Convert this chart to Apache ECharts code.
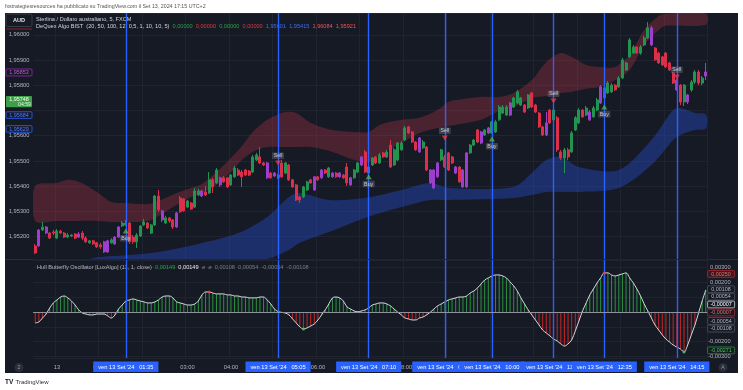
<!DOCTYPE html>
<html>
<head>
<meta charset="utf-8">
<script src="https://cdn.jsdelivr.net/npm/echarts@6/dist/echarts.min.js"></script>
<style>
html,body{margin:0;padding:0;background:#ffffff;overflow:hidden;}
#chart{width:743px;height:390px;}
</style>
</head>
<body>
<div id="chart"></div>
<script>
// ---------- DATA ----------
// 5-minute bars, 12 Sep 23:30 -> 13 Sep 14:55
const barTimes = [];
for (let b = -6; b <= 179; b++) {
  const m = (1440 + b * 5) % 1440;
  barTimes.push(String(Math.floor(m / 60)).padStart(2, '0') + ':' + String(m % 60).padStart(2, '0'));
}
const dayLabel = '13';

const open = [
1.95163,1.95163,1.95226,1.95238,1.95214,1.95218,1.95194,1.95222,1.95214,1.95198,
1.95202,1.95210,1.95198,1.95214,1.95194,1.95175,1.95183,1.95175,1.95167,1.95179,
1.95139,1.95175,1.95171,1.95198,1.95242,1.95246,1.95254,1.95198,1.95179,1.95202,
1.95246,1.95254,1.95214,1.95246,1.95361,1.95302,1.95254,1.95274,1.95266,1.95238,
1.95353,1.95349,1.95317,1.95333,1.95317,1.95365,1.95381,1.95377,1.95373,1.95425,
1.95413,1.95433,1.95433,1.95433,1.95405,1.95437,1.95464,1.95456,1.95464,1.95460,
1.95456,1.95504,1.95516,1.95492,1.95492,1.95452,1.95452,1.95444,1.95492,1.95452,
1.95484,1.95425,1.95405,1.95357,1.95357,1.95385,1.95425,1.95437,1.95437,1.95433,
1.95464,1.95437,1.95452,1.95452,1.95437,1.95444,1.95476,1.95433,1.95433,1.95456,
1.95484,1.95536,1.95452,1.95484,1.95516,1.95492,1.95532,1.95516,1.95563,1.95484,
1.95504,1.95544,1.95583,1.95635,1.95615,1.95575,1.95591,1.95552,1.95555,1.95464,
1.95464,1.95437,1.95504,1.95516,1.95532,1.95516,1.95476,1.95476,1.95464,1.95397,
1.95532,1.95563,1.95623,1.95615,1.95603,1.95631,1.95611,1.95615,1.95663,1.95690,
1.95682,1.95730,1.95714,1.95730,1.95722,1.95722,1.95710,1.95770,1.95722,1.95690,
1.95635,1.95603,1.95702,1.95663,1.95671,1.95536,1.95512,1.95544,1.95536,1.95623,
1.95651,1.95702,1.95682,1.95694,1.95675,1.95702,1.95730,1.95790,1.95770,1.95774,
1.95801,1.95794,1.95829,1.95861,1.95913,1.95928,1.95952,1.95928,1.95960,1.95988,
1.96028,1.95948,1.95928,1.95913,1.95928,1.95889,1.95849,1.95821,1.95801,1.95734,
1.95762,1.95782,1.95813,1.95853,1.95809,1.95837];
const close = [
1.95135,1.95226,1.95238,1.95214,1.95194,1.95214,1.95222,1.95214,1.95198,1.95206,
1.95206,1.95194,1.95210,1.95194,1.95179,1.95183,1.95171,1.95159,1.95159,1.95139,
1.95183,1.95187,1.95198,1.95238,1.95254,1.95254,1.95179,1.95179,1.95206,1.95242,
1.95258,1.95234,1.95246,1.95361,1.95306,1.95266,1.95274,1.95262,1.95238,1.95294,
1.95298,1.95302,1.95341,1.95309,1.95381,1.95381,1.95361,1.95365,1.95425,1.95397,
1.95464,1.95405,1.95417,1.95397,1.95444,1.95472,1.95444,1.95437,1.95444,1.95444,
1.95516,1.95524,1.95492,1.95484,1.95433,1.95433,1.95440,1.95433,1.95437,1.95492,
1.95425,1.95397,1.95345,1.95345,1.95397,1.95417,1.95413,1.95385,1.95425,1.95464,
1.95452,1.95472,1.95437,1.95437,1.95452,1.95433,1.95413,1.95405,1.95464,1.95492,
1.95516,1.95456,1.95476,1.95512,1.95492,1.95524,1.95516,1.95536,1.95476,1.95544,
1.95571,1.95571,1.95631,1.95611,1.95575,1.95544,1.95536,1.95575,1.95464,1.95413,
1.95393,1.95492,1.95544,1.95476,1.95464,1.95492,1.95452,1.95417,1.95397,1.95532,
1.95563,1.95583,1.95575,1.95571,1.95623,1.95611,1.95655,1.95655,1.95714,1.95714,
1.95714,1.95682,1.95750,1.95774,1.95750,1.95694,1.95762,1.95714,1.95694,1.95635,
1.95603,1.95651,1.95651,1.95702,1.95544,1.95512,1.95544,1.95516,1.95611,1.95671,
1.95702,1.95675,1.95710,1.95663,1.95710,1.95742,1.95794,1.95750,1.95809,1.95801,
1.95782,1.95829,1.95901,1.95889,1.95980,1.95952,1.95928,1.95952,1.95988,1.96028,
1.95960,1.95901,1.95889,1.95881,1.95873,1.95861,1.95809,1.95782,1.95734,1.95801,
1.95734,1.95813,1.95853,1.95809,1.95829,1.95853];
const low = [
1.95131,1.95159,1.95222,1.95210,1.95190,1.95206,1.95190,1.95210,1.95194,1.95194,
1.95198,1.95190,1.95194,1.95187,1.95175,1.95171,1.95167,1.95155,1.95151,1.95135,
1.95135,1.95171,1.95167,1.95194,1.95238,1.95242,1.95171,1.95171,1.95155,1.95198,
1.95242,1.95230,1.95210,1.95242,1.95298,1.95258,1.95250,1.95254,1.95230,1.95234,
1.95294,1.95298,1.95313,1.95306,1.95313,1.95361,1.95357,1.95361,1.95369,1.95373,
1.95409,1.95397,1.95413,1.95393,1.95401,1.95433,1.95440,1.95397,1.95440,1.95440,
1.95452,1.95500,1.95488,1.95480,1.95429,1.95429,1.95437,1.95429,1.95433,1.95448,
1.95421,1.95393,1.95341,1.95333,1.95353,1.95381,1.95409,1.95381,1.95421,1.95429,
1.95448,1.95433,1.95433,1.95433,1.95433,1.95429,1.95401,1.95401,1.95429,1.95452,
1.95480,1.95452,1.95448,1.95480,1.95488,1.95488,1.95512,1.95512,1.95472,1.95480,
1.95500,1.95540,1.95579,1.95607,1.95571,1.95540,1.95532,1.95548,1.95460,1.95409,
1.95389,1.95433,1.95500,1.95472,1.95460,1.95488,1.95448,1.95413,1.95393,1.95393,
1.95528,1.95559,1.95571,1.95567,1.95599,1.95607,1.95607,1.95611,1.95659,1.95686,
1.95678,1.95678,1.95710,1.95726,1.95718,1.95690,1.95706,1.95710,1.95690,1.95631,
1.95599,1.95599,1.95647,1.95659,1.95536,1.95504,1.95452,1.95504,1.95532,1.95619,
1.95647,1.95671,1.95678,1.95659,1.95671,1.95698,1.95726,1.95742,1.95766,1.95770,
1.95778,1.95790,1.95825,1.95857,1.95909,1.95925,1.95925,1.95921,1.95956,1.95984,
1.95956,1.95897,1.95885,1.95877,1.95869,1.95857,1.95805,1.95778,1.95722,1.95718,
1.95726,1.95774,1.95805,1.95801,1.95801,1.95821];
const high = [
1.95171,1.95230,1.95258,1.95242,1.95218,1.95226,1.95230,1.95226,1.95218,1.95214,
1.95210,1.95214,1.95218,1.95222,1.95202,1.95187,1.95187,1.95179,1.95175,1.95183,
1.95187,1.95194,1.95202,1.95242,1.95262,1.95266,1.95258,1.95206,1.95214,1.95246,
1.95270,1.95258,1.95250,1.95365,1.95385,1.95306,1.95282,1.95278,1.95270,1.95298,
1.95361,1.95353,1.95345,1.95337,1.95393,1.95389,1.95385,1.95401,1.95456,1.95433,
1.95472,1.95437,1.95440,1.95437,1.95448,1.95480,1.95472,1.95464,1.95468,1.95464,
1.95524,1.95532,1.95555,1.95496,1.95496,1.95456,1.95456,1.95448,1.95504,1.95496,
1.95488,1.95429,1.95409,1.95361,1.95401,1.95421,1.95429,1.95440,1.95440,1.95468,
1.95468,1.95476,1.95456,1.95456,1.95456,1.95448,1.95492,1.95437,1.95468,1.95496,
1.95520,1.95544,1.95480,1.95516,1.95520,1.95532,1.95536,1.95544,1.95583,1.95552,
1.95575,1.95579,1.95639,1.95639,1.95619,1.95579,1.95595,1.95583,1.95559,1.95468,
1.95468,1.95496,1.95548,1.95524,1.95536,1.95520,1.95480,1.95480,1.95468,1.95536,
1.95567,1.95587,1.95627,1.95619,1.95627,1.95635,1.95659,1.95663,1.95722,1.95722,
1.95722,1.95734,1.95754,1.95782,1.95754,1.95726,1.95766,1.95774,1.95726,1.95694,
1.95639,1.95694,1.95706,1.95718,1.95678,1.95544,1.95552,1.95552,1.95619,1.95678,
1.95710,1.95706,1.95718,1.95702,1.95718,1.95750,1.95801,1.95798,1.95817,1.95809,
1.95805,1.95837,1.95909,1.95893,1.95988,1.95960,1.95956,1.95960,1.95996,1.96051,
1.96036,1.95952,1.95932,1.95917,1.95932,1.95893,1.95853,1.95825,1.95805,1.95805,
1.95766,1.95821,1.95861,1.95861,1.95837,1.95889];
// DeQuex bar state: g = bullish, r = bearish, p = neutral (purple)
const barState = ('rpgprrgrrg' + 'grprrgrrrp' + 'pgppggrrgg' + 'grggrpgrrp' + 'rrgrggprgr' +
  'gprrggrrrr' + 'ggrrprprrg' + 'rrrrggrprp' + 'rgprprrpgg' + 'prggrgrgrg' +
  'gggrrrpgrp' + 'ppgrrrprpp' + 'ggrpgpgggg' + 'gpgggrgrrr' + 'rprgrrgrgg' +
  'grgpggprgg' + 'rgggggrggg' + 'prrrrrrprg' + 'pggrgp').split('');

// DeQuex cloud bands
const redTimes = ['23:30','00:00','00:15','00:30','00:55','01:15','01:35','02:05','02:20','02:45','03:05','03:20','03:40','04:00','04:15','04:30','04:50','05:15','05:30','05:50','06:20','06:50','07:10','07:25','07:55','08:20','08:45','09:00','09:10','09:45','10:10','10:30','10:55','11:15','11:35','11:50','12:10','12:30','12:50','13:10','13:30','13:50','14:00','14:55'];
const redUpper = [1.95401,1.95413,1.95425,1.95417,1.95377,1.95337,1.95333,1.95329,1.95341,1.95373,1.95393,1.95409,1.95456,1.95512,1.95559,1.95615,1.95663,1.95694,1.95690,1.95651,1.95623,1.95615,1.95615,1.95643,1.95663,1.95671,1.95702,1.95734,1.95742,1.95754,1.95754,1.95770,1.95821,1.95893,1.95928,1.95913,1.95881,1.95873,1.95873,1.95921,1.96020,1.96075,1.96084,1.96084];
const redLower = [1.95262,1.95262,1.95262,1.95262,1.95262,1.95258,1.95258,1.95262,1.95282,1.95325,1.95357,1.95373,1.95405,1.95456,1.95504,1.95536,1.95555,1.95555,1.95555,1.95555,1.95536,1.95504,1.95496,1.95524,1.95571,1.95611,1.95631,1.95639,1.95643,1.95663,1.95698,1.95714,1.95750,1.95758,1.95770,1.95774,1.95786,1.95794,1.95821,1.95861,1.95960,1.96020,1.96036,1.96040];
const blueTimes = ['00:45','01:00','02:10','03:15','04:10','04:50','05:20','05:35','06:15','07:05','07:55','08:35','09:00','10:30','10:55','11:15','11:35','12:00','12:55','13:40','14:10','14:20','14:40','14:55'];
const blueUpper = [1.95111,1.95119,1.95135,1.95171,1.95214,1.95278,1.95357,1.95373,1.95345,1.95353,1.95385,1.95413,1.95393,1.95397,1.95452,1.95504,1.95516,1.95476,1.95464,1.95583,1.95702,1.95710,1.95690,1.95684];
const blueLower = [1.95100,1.95100,1.95100,1.95100,1.95100,1.95111,1.95147,1.95175,1.95218,1.95274,1.95317,1.95345,1.95345,1.95353,1.95365,1.95377,1.95377,1.95377,1.95393,1.95484,1.95583,1.95603,1.95623,1.95629];

// Signals
const buyTimes = ['01:35','07:10','10:00','12:35'];
const buyLevels = [1.95222,1.95437,1.95587,1.95714];
const sellTimes = ['05:05','08:55','11:25','14:15'];
const sellLevels = [1.95492,1.95591,1.95738,1.95833];
const signalTimes = ['01:35','05:05','07:10','08:55','10:00','11:25','12:35','14:15'];
const signalDate = "ven 13 Set '24";

// Hull Butterfly Oscillator
const osc = [
-0.00074,-0.00068,-0.00041,-0.00014,0.00027,0.00061,0.00081,0.00101,0.00108,0.00095,
0.00074,0.00047,0.00014,-0.00007,-0.00014,-0.00020,-0.00020,-0.00014,-0.00014,-0.00014,
-0.00027,-0.00041,-0.00020,0.00020,0.00047,0.00074,0.00081,0.00088,0.00081,0.00074,
0.00068,0.00061,0.00061,0.00068,0.00081,0.00101,0.00108,0.00108,0.00095,0.00068,
0.00061,0.00054,0.00047,0.00047,0.00054,0.00074,0.00115,0.00135,0.00135,0.00128,
0.00122,0.00122,0.00122,0.00115,0.00115,0.00108,0.00108,0.00101,0.00101,0.00095,
0.00095,0.00095,0.00101,0.00101,0.00081,0.00054,0.00020,0.00003,-0.00003,-0.00007,
-0.00020,-0.00047,-0.00074,-0.00101,-0.00115,-0.00108,-0.00095,-0.00081,-0.00054,-0.00020,
0.00014,0.00054,0.00095,0.00101,0.00095,0.00074,0.00034,0.00020,0.00007,0.00001,
0.00007,0.00014,0.00027,0.00047,0.00054,0.00061,0.00061,0.00054,0.00041,0.00020,
-0.00001,-0.00020,-0.00041,-0.00047,-0.00054,-0.00054,-0.00041,-0.00034,-0.00020,-0.00002,
0.00020,0.00041,0.00054,0.00068,0.00081,0.00088,0.00095,0.00101,0.00101,0.00108,
0.00128,0.00142,0.00162,0.00189,0.00216,0.00230,0.00243,0.00250,0.00250,0.00243,
0.00230,0.00203,0.00176,0.00142,0.00095,0.00054,0.00014,-0.00020,-0.00054,-0.00088,
-0.00122,-0.00142,-0.00162,-0.00183,-0.00196,-0.00216,-0.00230,-0.00216,-0.00189,-0.00128,
-0.00061,0.00007,0.00061,0.00115,0.00155,0.00196,0.00230,0.00264,0.00264,0.00250,
0.00243,0.00250,0.00257,0.00264,0.00230,0.00196,0.00155,0.00108,0.00054,0.00007,
-0.00041,-0.00088,-0.00122,-0.00155,-0.00183,-0.00203,-0.00223,-0.00237,-0.00250,-0.00271,
-0.00223,-0.00155,-0.00088,-0.00007,0.00074,0.00149];
const oscLevels = [0.00108, 0.00054, -0.00054, -0.00108];
const oscTopTimes = ['03:30','12:35'];
const oscTopValues = [0.00135, 0.00264];
const oscBottomTimes = ['05:40','14:25'];
const oscBottomValues = [-0.00115, -0.00271];

// Scale tags
const priceTagValues = [1.95853, 1.95748, 1.95684, 1.95629];
const countdown = '04:59';
const oscTagValues = [0.00250, 0.00108, 0.00054, -0.00007, -0.00007, -0.00054, -0.00108, -0.00271];
const mainHiddenTicks = [1.957];
const oscHiddenTicks = [0.001, 0, -0.001];

// ---------- STYLE ----------
const FONT_FAMILY = '"Liberation Sans", Arial, sans-serif';
const BG = '#161a25';
const GRID = '#1f2430';
const AXIS_TXT = '#b2b5be';
const BLUE_LINE = '#2962ff';
const CANDLE_COLORS = { g: '#22944f', r: '#dc2f4a', p: '#9c3fcf' };
const font = (s, w) => (w ? w + ' ' : '') + s + 'px ' + FONT_FAMILY;
const fmt5 = v => v.toFixed(5).replace('.', ',');
const isHidden = (list, v) => list.some(h => Math.abs(h - v) < 1e-9);
const hourOnly = (i, v) => typeof v === 'string' && v.slice(3) === '00';
const idx = t => barTimes.indexOf(t);

function bandRender(fill) {
  return function (params, api) {
    if (params.dataIndexInside !== 0) return null;
    const n = params.dataInsideLength;
    const up = [], lo = [];
    for (let i = 0; i < n; i++) {
      up.push(api.coord([api.value(0, i), api.value(1, i)]));
      lo.push(api.coord([api.value(0, i), api.value(2, i)]));
    }
    return {
      type: 'polygon',
      shape: { points: up.concat(lo.reverse()), smooth: 0.3 },
      style: { fill: fill }
    };
  };
}

const chart = echarts.init(document.getElementById('chart'), null, { renderer: 'canvas' });

const GL = 33.4, GR = 35.4;

const option = {
  animation: false,
  backgroundColor: '#ffffff',
  textStyle: { fontFamily: FONT_FAMILY },
  grid: [
    { left: GL, right: GR, top: 13, height: 246 },
    { left: GL, right: GR, top: 260, height: 98 }
  ],
  xAxis: [
    { type: 'category', gridIndex: 0, data: barTimes, boundaryGap: true,
      axisLine: { show: false }, axisTick: { show: false }, axisLabel: { show: false },
      splitLine: { show: true, interval: hourOnly, lineStyle: { color: GRID, width: 1 } } },
    { type: 'category', gridIndex: 1, data: barTimes, boundaryGap: true,
      axisLine: { show: false }, axisTick: { show: false },
      axisLabel: { show: true, interval: hourOnly, formatter: v => (v === '00:00' ? dayLabel : v),
        color: AXIS_TXT, fontSize: 5.7, fontFamily: FONT_FAMILY, margin: 6 },
      splitLine: { show: true, interval: hourOnly, lineStyle: { color: GRID, width: 1 } } }
  ],
  yAxis: [
    { type: 'value', gridIndex: 0, position: 'left', min: 1.95111, max: 1.96087,
      minInterval: 0.001, maxInterval: 0.001, splitNumber: 10,
      axisLine: { show: false }, axisTick: { show: false },
      axisLabel: { formatter: v => (isHidden(mainHiddenTicks, v) ? '' : fmt5(v)), color: AXIS_TXT,
        fontSize: 5.7, fontFamily: FONT_FAMILY, margin: 4, showMinLabel: false, showMaxLabel: false },
      splitLine: { lineStyle: { color: GRID, width: 1 } } },
    { type: 'value', gridIndex: 1, position: 'right', min: -0.00311, max: 0.00351,
      minInterval: 0.001, maxInterval: 0.001, splitNumber: 6,
      axisLine: { show: false }, axisTick: { show: false },
      axisLabel: { formatter: v => (isHidden(oscHiddenTicks, v) ? '' : fmt5(v)), color: AXIS_TXT,
        fontSize: 5.7, fontFamily: FONT_FAMILY, margin: 23, align: 'right',
        showMinLabel: false, showMaxLabel: false },
      splitLine: { lineStyle: { color: GRID, width: 1 } } }
  ],
  series: [
    { type: 'custom', name: 'redCloud', xAxisIndex: 0, yAxisIndex: 0, z: 1, silent: true, clip: true,
      data: redTimes.map((t, i) => [idx(t), redUpper[i], redLower[i]]),
      encode: { x: 0, y: [1, 2] },
      renderItem: bandRender('rgba(214,58,76,0.28)') },
    { type: 'custom', name: 'blueCloud', xAxisIndex: 0, yAxisIndex: 0, z: 1, silent: true, clip: true,
      data: blueTimes.map((t, i) => [idx(t), blueUpper[i], blueLower[i]]),
      encode: { x: 0, y: [1, 2] },
      renderItem: bandRender('rgba(41,82,220,0.38)') },
    { type: 'candlestick', name: 'GBPAUD', xAxisIndex: 0, yAxisIndex: 0, z: 3, barWidth: '70%',
      data: barTimes.map((t, i) => {
        const c = CANDLE_COLORS[barState[i]];
        return { value: [open[i], close[i], low[i], high[i]],
          itemStyle: { color: c, color0: c, borderColor: c, borderColor0: c, borderWidth: 1 } };
      }),
      markLine: { silent: true, symbol: ['none', 'none'], animation: false,
        label: { show: false },
        lineStyle: { color: BLUE_LINE, width: 1.4, type: 'solid', opacity: 1 },
        data: signalTimes.map(t => ({ xAxis: t })) } },
    { type: 'scatter', name: 'Buy', xAxisIndex: 0, yAxisIndex: 0, z: 6, silent: true,
      data: buyTimes.map((t, i) => [idx(t), buyLevels[i]]),
      symbol: 'triangle', symbolSize: [6, 5], itemStyle: { color: '#4caf50' },
      label: { show: true, position: 'bottom', distance: 1.5, formatter: 'Buy', color: '#e0e3eb',
        fontSize: 5.3, fontFamily: FONT_FAMILY, backgroundColor: 'rgba(120,123,134,0.5)',
        padding: [1, 1.5, 0.5, 1.5], borderRadius: 1 } },
    { type: 'scatter', name: 'Sell', xAxisIndex: 0, yAxisIndex: 0, z: 6, silent: true,
      data: sellTimes.map((t, i) => [idx(t), sellLevels[i]]),
      symbol: 'triangle', symbolRotate: 180, symbolSize: [6, 5], itemStyle: { color: '#f23645' },
      label: { show: true, position: 'top', distance: 1.5, formatter: 'Sell', color: '#e0e3eb',
        fontSize: 5.3, fontFamily: FONT_FAMILY, backgroundColor: 'rgba(120,123,134,0.5)',
        padding: [1, 1.5, 0.5, 1.5], borderRadius: 1 } },
    { type: 'bar', name: 'HBO hist', xAxisIndex: 1, yAxisIndex: 1, z: 2, barWidth: 1, silent: true,
      data: osc,
      itemStyle: { color: p => (p.value >= 0 ? 'rgba(46,160,67,0.9)' : 'rgba(214,40,40,0.9)') },
      markLine: { silent: true, symbol: ['none', 'none'], animation: false,
        lineStyle: { color: BLUE_LINE, width: 1.4, type: 'solid', opacity: 1 },
        label: { show: true, position: 'start', distance: 3.5,
          formatter: p => signalDate + '   ' + p.name,
          color: '#ffffff', backgroundColor: BLUE_LINE, padding: [2.5, 5, 2, 5],
          fontSize: 5.7, fontFamily: FONT_FAMILY },
        data: signalTimes.map(t => ({ xAxis: t, name: t })) } },
    { type: 'line', name: 'HBO', xAxisIndex: 1, yAxisIndex: 1, z: 4, silent: true,
      data: osc, smooth: 0.35, showSymbol: false,
      lineStyle: { color: '#d6d8de', width: 1 },
      markLine: { silent: true, symbol: ['none', 'none'], animation: false, label: { show: false },
        lineStyle: { color: '#8f929b', width: 1, type: 'solid', opacity: 0.85 },
        data: oscLevels.map(v => ({ yAxis: v })) } },
    { type: 'scatter', xAxisIndex: 1, yAxisIndex: 1, z: 5, silent: true, symbolSize: 3,
      data: oscTopTimes.map((t, i) => [idx(t), oscTopValues[i]]), itemStyle: { color: '#ff3b3b' } },
    { type: 'scatter', xAxisIndex: 1, yAxisIndex: 1, z: 5, silent: true, symbolSize: 3,
      data: oscBottomTimes.map((t, i) => [idx(t), oscBottomValues[i]]), itemStyle: { color: '#3fcf5a' } }
  ],
  graphic: [
    { type: 'rect', id: 'bg', z: -10, silent: true, shape: { x: 5, y: 13, width: 733, height: 360 }, style: { fill: BG } },
    { type: 'line', id: 'sep', z: 0, silent: true, shape: { x1: 5, y1: 259.5, x2: 738, y2: 259.5 }, style: { stroke: '#2a2e39', lineWidth: 1 } },
    { type: 'text', id: 'hdr', z: 1, x: 5, y: 6.5, style: { text: 'fxstrategiesresources ha pubblicato su TradingView.com il Set 13, 2024 17:15 UTC+2', fill: '#555555', font: font(5.3), verticalAlign: 'middle' } },
    { type: 'text', id: 'lg1', z: 1, x: 36, y: 19, style: { text: 'Sterlina / Dollaro australiano, 5, FXCM', fill: '#d1d4dc', font: font(5.6), verticalAlign: 'middle' } },
    { type: 'text', id: 'lg2', z: 1, x: 36, y: 26, style: {
      text: 'DeQuex Algo BIST  (20, 50, 100, 12, 0,5, 1, 10, 10, 5)  {g|0,00000}  {r|0,00000}  {g|0,00000}  {r|0,00000}  {b|1,95601}  {b|1,95415}  {r2|1,96084}  {r2|1,95921}',
      fill: '#d1d4dc', font: font(5.6), verticalAlign: 'middle',
      rich: {
        g: { fill: '#2ea043', fontSize: 5.6, fontFamily: FONT_FAMILY },
        r: { fill: '#e0383e', fontSize: 5.6, fontFamily: FONT_FAMILY },
        b: { fill: '#3b6ef5', fontSize: 5.6, fontFamily: FONT_FAMILY },
        r2: { fill: '#f05454', fontSize: 5.6, fontFamily: FONT_FAMILY }
      } } },
    { type: 'text', id: 'lg3', z: 1, x: 37, y: 267.5, style: {
      text: 'Hull Butterfly Oscillator [LuxAlgo] (11, 1, close)  {g|0,00149}  {w|0,00149}  {d|ø  ø  0,00108  0,00054  -0,00054  -0,00108}',
      fill: '#b2b5be', font: font(5.6), verticalAlign: 'middle',
      rich: {
        g: { fill: '#2ea043', fontSize: 5.6, fontFamily: FONT_FAMILY },
        w: { fill: '#e8e9ee', fontSize: 5.6, fontFamily: FONT_FAMILY },
        d: { fill: '#787b86', fontSize: 5.6, fontFamily: FONT_FAMILY }
      } } },
    { type: 'rect', id: 'audbox', z: 20, shape: { x: 6, y: 14, width: 26, height: 12.5, r: 1.5 }, style: { fill: BG, stroke: '#434651', lineWidth: 0.8 } },
    { type: 'text', id: 'audtxt', z: 21, x: 19, y: 20.4, style: { text: 'AUD', fill: '#e0e3eb', font: font(5.6, 'bold'), align: 'center', verticalAlign: 'middle' } },
    { type: 'line', id: 'audline', z: 20, shape: { x1: 6, y1: 29, x2: 32, y2: 29 }, style: { stroke: '#a3262f', lineWidth: 0.8 } },
    { type: 'circle', id: 'c2', z: 20, shape: { cx: 19, cy: 367.5, r: 4.5 }, style: { fill: '#2a2e39' } },
    { type: 'text', id: 'c2t', z: 21, x: 19, y: 367.7, style: { text: '2', fill: '#9598a1', font: font(5), align: 'center', verticalAlign: 'middle' } },
    { type: 'circle', id: 'cA', z: 20, shape: { cx: 723, cy: 367.5, r: 4.5 }, style: { fill: '#2a2e39' } },
    { type: 'text', id: 'cAt', z: 21, x: 723, y: 367.7, style: { text: 'A', fill: '#9598a1', font: font(5), align: 'center', verticalAlign: 'middle' } },
    { type: 'text', id: 'tvlogo', z: 1, x: 5, y: 382.5, style: { text: 'TV', fill: '#131722', font: font(6.5, '900'), verticalAlign: 'middle' } },
    { type: 'text', id: 'tvtxt', z: 1, x: 15.5, y: 382.5, style: { text: 'TradingView', fill: '#2a2e39', font: font(6), verticalAlign: 'middle' } }
  ]
};
chart.setOption(option);

// ---------- scale tags (positioned through the axes' own scales) ----------
const py = v => chart.convertToPixel({ yAxisIndex: 0 }, v);
const oy = v => chart.convertToPixel({ yAxisIndex: 1 }, v);
function tagBox(id, x, yc, w, h, label, stroke, fill, color) {
  return [
    { type: 'rect', id: id + 'r', z: 50, shape: { x: x, y: yc - h / 2, width: w, height: h, r: 1 }, style: { fill: fill, stroke: stroke, lineWidth: 0.8 } },
    { type: 'text', id: id + 't', z: 51, x: x + w / 2, y: yc + 0.3, style: { text: label, fill: color, font: font(5.4), align: 'center', verticalAlign: 'middle' } }
  ];
}
const tags = [];
tags.push(...tagBox('p0', 6, py(priceTagValues[0]) + 0.5, 26, 7, fmt5(priceTagValues[0]), '#9c27b0', BG, '#c557e0'));
const gy = py(priceTagValues[1]);
tags.push({ type: 'rect', id: 'p1r', z: 50, shape: { x: 6, y: gy - 2.5, width: 26, height: 11.3, r: 1 }, style: { fill: '#3f9e48' } });
tags.push({ type: 'text', id: 'p1t', z: 51, x: 19, y: gy + 0.9, style: { text: fmt5(priceTagValues[1]), fill: '#ffffff', font: font(5.4), align: 'center', verticalAlign: 'middle' } });
tags.push({ type: 'text', id: 'p1c', z: 51, x: 31, y: gy + 5.9, style: { text: countdown, fill: '#eaf5ea', font: font(5.2), align: 'right', verticalAlign: 'middle' } });
tags.push(...tagBox('p2', 6, py(priceTagValues[2]) + 0.5, 26, 6.6, fmt5(priceTagValues[2]), '#2962ff', BG, '#4d7cff'));
tags.push(...tagBox('p3', 6, py(priceTagValues[3]) + 0.5, 26, 6.6, fmt5(priceTagValues[3]), '#2962ff', BG, '#4d7cff'));
const oscTagStyle = [
  ['#b2262f', '#3a1a20', '#f06a6a', -1],
  ['#50535e', BG, '#b2b5be', -6.7],
  ['#50535e', BG, '#b2b5be', -7.3],
  ['#d1d4dc', BG, '#ffffff', -8.5],
  ['#b2262f', BG, '#f06a6a', -0.5],
  ['#50535e', BG, '#b2b5be', 1],
  ['#50535e', BG, '#b2b5be', 0.7],
  ['#2e8b3e', BG, '#4cc15a', -1.7]
];
oscTagValues.forEach((v, i) => {
  const s = oscTagStyle[i];
  tags.push(...tagBox('o' + i, 707.6, oy(v) + s[3], 27, 6.8, fmt5(v), s[0], s[1], s[2]));
});
chart.setOption({ graphic: tags });
</script>
</body>
</html>
